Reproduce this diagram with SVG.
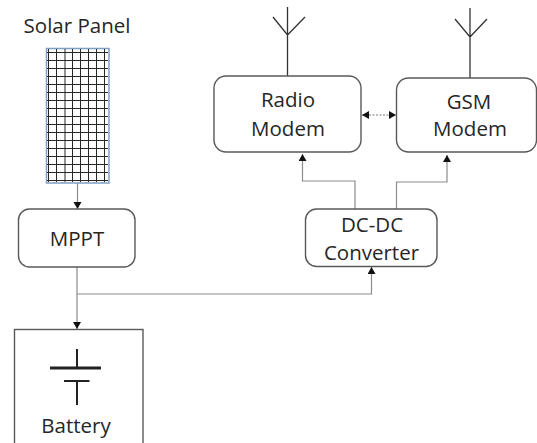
<svg xmlns="http://www.w3.org/2000/svg" width="537" height="443" viewBox="0 0 537 443">
<style>
text{font-family:"Open Sans","Liberation Sans",sans-serif;font-size:20.500px;fill:#262626;text-anchor:middle}
.box{fill:#fff;stroke:#595959;stroke-width:1.4}
.wire{fill:none;stroke:#8c8c8c;stroke-width:1.2}
.ant{fill:none;stroke:#333;stroke-width:1.3}
.grid{stroke:#262626;stroke-width:1}
</style>
<defs>
<marker id="a" markerWidth="10" markerHeight="10" refX="7" refY="4" orient="auto" markerUnits="userSpaceOnUse"><path d="M0 0L7 4L0 8Z" fill="#111"/></marker>
<marker id="s" markerWidth="10" markerHeight="10" refX="0" refY="4" orient="auto" markerUnits="userSpaceOnUse"><path d="M7 0L0 4L7 8Z" fill="#111"/></marker>
</defs>
<rect width="537" height="443" fill="#fff"/>
<g id="connectors">
<path class="wire" d="M77.500 183V209" marker-end="url(#a)"/>
<path class="wire" d="M77 267V329" marker-end="url(#a)"/>
<path class="wire" d="M77 294H371.500V267" marker-end="url(#a)"/>
<path class="wire" d="M355 209V181H302.500V154" marker-end="url(#a)"/>
<path class="wire" d="M396.500 209V182H447V155" marker-end="url(#a)"/>
<path d="M362 115H396" fill="none" stroke="#777" stroke-width="1" stroke-dasharray="2 1.500" marker-start="url(#s)" marker-end="url(#a)"/>
</g>
<g id="solar-panel">
<text x="77" y="33">Solar Panel</text>
<rect x="46.500" y="48.500" width="62.500" height="134.500" fill="#fff" stroke="#7f9fc4" stroke-width="1.500"/>
<path class="grid" d="M48.500 49V182M56.500 49V182M65 49V182M72.500 49V182M80.500 49V182M88.500 49V182M96.500 49V182M104.500 49V182"/>
<path class="grid" d="M47 52.500H108M47 60.500H108M47 68.500H108M47 76.500H108M47 84.500H108M47 92.500H108M47 100.500H108M47 108.500H108M47 116.500H108M47 124.500H108M47 132.500H108M47 140.500H108M47 148.500H108M47 156.500H108M47 164.500H108M47 172.500H108M47 180.500H108"/>
</g>
<g id="mppt">
<rect class="box" x="18.500" y="209" width="116.500" height="58" rx="11"/>
<text x="77" y="245.500">MPPT</text>
</g>
<g id="battery">
<rect class="box" x="14.500" y="329.500" width="128.500" height="130"/>
<path d="M77 349V368M77 381V405" fill="none" stroke="#222" stroke-width="2"/>
<path d="M50 368H101" stroke="#222" stroke-width="3"/>
<path d="M64 381H89.500" stroke="#222" stroke-width="2"/>
<text x="76" y="433">Battery</text>
</g>
<g id="dc-dc-converter">
<rect class="box" x="305.500" y="209" width="131.500" height="57.500" rx="11"/>
<text x="372" y="232">DC-DC</text>
<text x="371.500" y="260">Converter</text>
</g>
<g id="radio-modem">
<path class="ant" d="M287.500 76V7M273 17L287.500 35L305 17"/>
<rect class="box" x="214" y="76" width="147" height="76" rx="12"/>
<text x="288" y="107">Radio</text>
<text x="288" y="136">Modem</text>
</g>
<g id="gsm-modem">
<path class="ant" d="M470 78V8M455 19L470 37L487 19"/>
<rect class="box" x="396.500" y="78" width="140" height="74" rx="12"/>
<text x="469" y="108.500">GSM</text>
<text x="470" y="136">Modem</text>
</g>
</svg>
